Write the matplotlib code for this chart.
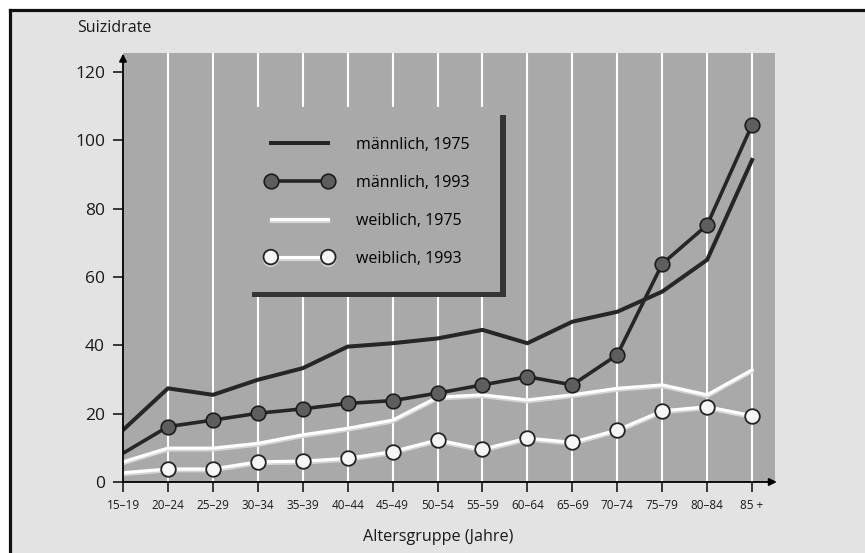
import matplotlib.pyplot as plt
import matplotlib.patheffects as pe
from matplotlib.lines import Line2D
from matplotlib.patches import Rectangle

plt.rcParams['font.family'] = ['Open Sans', 'DejaVu Sans']

# Suizidrate je 100 000 nach Altersgruppe
age_groups = ['15–19', '20–24', '25–29', '30–34', '35–39', '40–44', '45–49',
              '50–54', '55–59', '60–64', '65–69', '70–74', '75–79', '80–84', '85 +']
male_1975 = [15.2, 27.4, 25.5, 29.9, 33.3, 39.6, 40.6, 42.0, 44.5, 40.6,
             46.9, 49.8, 55.7, 65.0, 94.2]
male_1993 = [8.4, 16.2, 18.1, 20.1, 21.4, 23.0, 23.8, 26.0, 28.4, 30.8,
             28.4, 37.2, 63.8, 75.2, 104.5]
female_1975 = [5.9, 9.9, 9.9, 11.3, 13.8, 15.7, 18.1, 24.8, 25.5, 24.0,
               25.5, 27.4, 28.4, 25.5, 32.8]
female_1993 = [2.7, 3.8, 3.8, 5.9, 6.1, 6.9, 8.9, 12.3, 9.6, 12.8,
               11.6, 15.2, 20.8, 22.0, 19.4]
y_ticks = [0, 20, 40, 60, 80, 100, 120]
labels = ['männlich, 1975', 'männlich, 1993', 'weiblich, 1975', 'weiblich, 1993']

BG = '#e3e3e3'
PANEL = '#a9a9a9'
DARK = '#262626'
BALL = '#5e5e5e'

W, H = 865, 553
fig = plt.figure(figsize=(W / 100, H / 100), dpi=100, facecolor='white')

# light card with black frame on the left and top
fig.add_artist(Rectangle((10 / W, -0.1), 1.2, 1 - 10 / H + 0.1, transform=fig.transFigure,
                         facecolor=BG, edgecolor='none', zorder=0))
fig.add_artist(Line2D([10 / W, 10 / W], [0, 1 - 10 / H], transform=fig.transFigure,
                      color='#111111', lw=2.3))
fig.add_artist(Line2D([10 / W, 1], [1 - 10 / H, 1 - 10 / H], transform=fig.transFigure,
                      color='#111111', lw=2.3))

ax = fig.add_axes([123 / W, 71 / H, 652 / W, 429 / H])
ax.set_facecolor(PANEL)
for s in ax.spines.values():
    s.set_visible(False)
x = list(range(len(age_groups)))
ax.set_xlim(0, 14.51)
ax.set_ylim(0, 125.5)

# white vertical grid lines
ax.vlines(x[1:], 0, 125.5, color='white', lw=1.5, zorder=1)

# legend box hides the grid, with dark drop shadow right and bottom
ax.add_patch(Rectangle((2.83, 54.0), 5.69, 55.7, facecolor=PANEL, edgecolor='none', zorder=1.5))
ax.add_patch(Rectangle((8.39, 54.0), 0.13, 53.4, facecolor='#353535', edgecolor='none', zorder=1.6))
ax.add_patch(Rectangle((2.87, 54.0), 5.65, 1.7, facecolor='#353535', edgecolor='none', zorder=1.6))

white_fx = [pe.SimpleLineShadow(offset=(0, -1.3), shadow_color='#d4d4d4', alpha=1), pe.Normal()]

ax.plot(x, male_1975, color=DARK, lw=2.9, solid_joinstyle='round', zorder=4)
ax.plot(x, male_1993, color=DARK, lw=2.6, solid_joinstyle='round', zorder=4)
ax.plot(x[1:], male_1993[1:], ls='none', marker='o', ms=10.5, mfc=BALL, mec='#1c1c1c',
        mew=1.2, zorder=5)
ax.plot(x, female_1975, color='white', lw=2.3, path_effects=white_fx, zorder=3)
ax.plot(x, female_1993, color='white', lw=2.3, path_effects=white_fx, zorder=3)
ax.plot(x[1:], female_1993[1:], ls='none', marker='o', ms=10.5, mfc='#f6f6f6', mec='#232323',
        mew=1.3, zorder=5)

# axes with arrow heads
arrow = dict(arrowstyle='-|>', color='black', lw=1.3, mutation_scale=11, shrinkA=0, shrinkB=0)
ax.annotate('', xy=(14.55, 0), xytext=(0, 0), arrowprops=arrow, annotation_clip=False, zorder=6)
ax.annotate('', xy=(0, 125.3), xytext=(0, 0), arrowprops=arrow, annotation_clip=False, zorder=6)

ax.set_xticks(x, age_groups)
ax.set_yticks(y_ticks, [str(v) for v in y_ticks])
ax.tick_params(axis='x', direction='out', length=7, width=1.2, pad=5, labelsize=8.5,
               colors='#1a1a1a')
ax.tick_params(axis='y', direction='out', length=7, width=1.2, pad=6, labelsize=12.5,
               colors='#1a1a1a')

handles = [
    Line2D([], [], color=DARK, lw=2.9),
    Line2D([], [], color=DARK, lw=2.6, marker='o', ms=10.5, mfc=BALL, mec='#1c1c1c', mew=1.2),
    Line2D([], [], color='white', lw=2.3, path_effects=white_fx),
    Line2D([], [], color='white', lw=2.3, path_effects=white_fx, marker='o', ms=10.5,
           mfc='#f6f6f6', mec='#232323', mew=1.3),
]
leg = ax.legend(handles, labels, numpoints=2, frameon=False, loc='upper left',
                bbox_to_anchor=((266 - 123) / 652, (482 - 137) / 429), borderaxespad=0,
                borderpad=0, handlelength=4.2, handletextpad=1.45, labelspacing=1.37,
                fontsize=11.5)
leg.set_zorder(7)

fig.text(77 / W, 1 - 28 / H, 'Suizidrate', fontsize=11.5, va='center', ha='left', color='#1a1a1a')
fig.text(438 / W, 1 - 537 / H, 'Altersgruppe (Jahre)', fontsize=11.6, va='center', ha='center',
         color='#1a1a1a')

fig.savefig('out.png', dpi=100, facecolor=fig.get_facecolor())
